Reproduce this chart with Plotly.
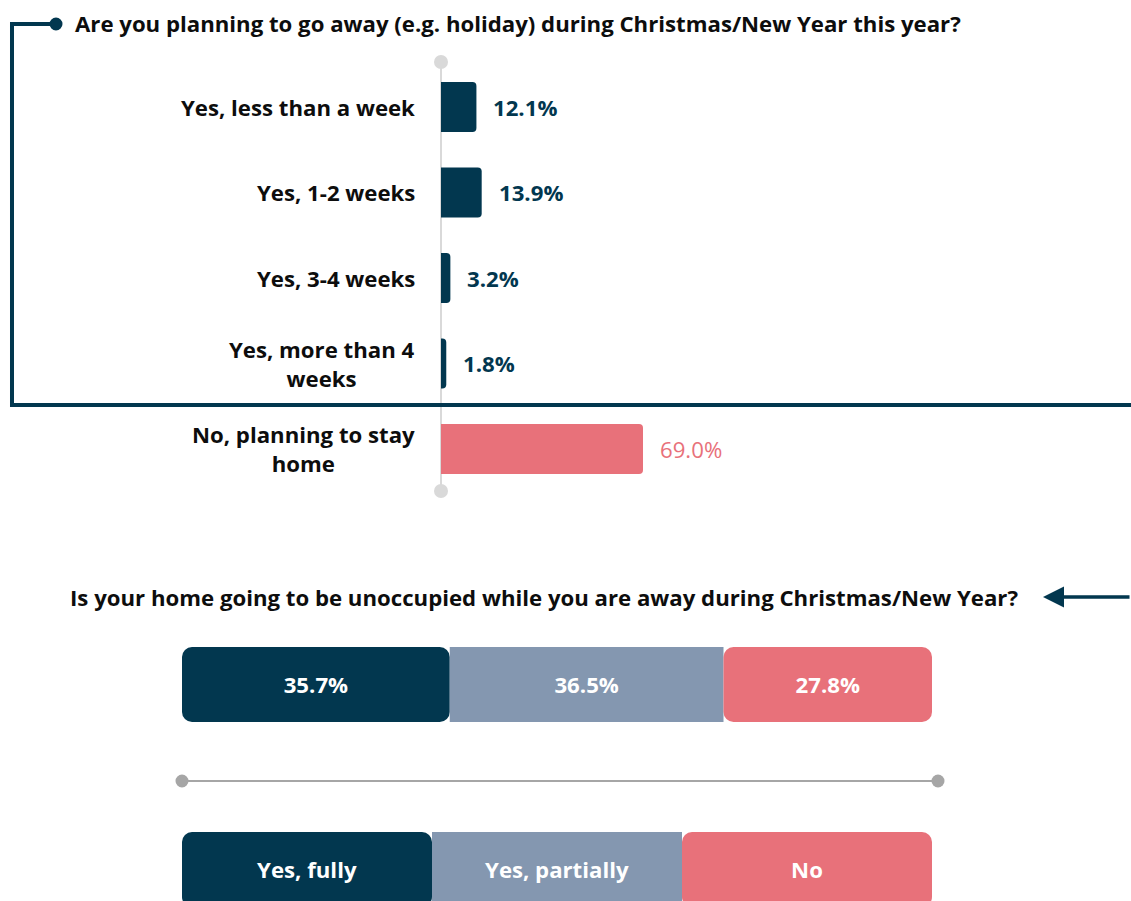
import plotly.graph_objects as go

# ---------------- data ----------------
categories = ["Yes, less than a week", "Yes, 1-2 weeks", "Yes, 3-4 weeks",
              "Yes, more than 4<br>weeks", "No, planning to stay<br>home"]
values = [12.1, 13.9, 3.2, 1.8, 69.0]

home_labels = ["Yes, fully", "Yes, partially", "No"]
home_values = [35.7, 36.5, 27.8]

title_top = "Are you planning to go away (e.g. holiday) during Christmas/New Year this year?"
title_bottom = "Is your home going to be unoccupied while you are away during Christmas/New Year?"

# ---------------- style ----------------
W, H = 1131, 901
NAVY = "#02374F"
GRAYBLUE = "#8497B0"
PINK = "#E8717A"
FONT = "Open Sans"
FS = 22.2
bar_colors = [NAVY, NAVY, NAVY, NAVY, PINK]
home_colors = [NAVY, GRAYBLUE, PINK]


def px(x):
    return x / W


def py(y):
    return 1 - y / H


fig = go.Figure()

# ---- top horizontal bar chart ----
fig.add_trace(go.Bar(
    y=categories, x=values, orientation="h",
    marker=dict(color=bar_colors, cornerradius=4, line=dict(width=0)),
    width=0.585, xaxis="x", yaxis="y", hoverinfo="x+y", showlegend=False,
))

annotations = []
for cat, v, c in zip(categories, values, bar_colors):
    annotations.append(dict(
        x=0, y=cat, xref="x", yref="y", text="<b>%s</b>" % cat, showarrow=False,
        xanchor="right", align="center", xshift=-24,
        font=dict(family=FONT, size=FS, color="#0D0D0D"),
    ))
    annotations.append(dict(
        x=v, y=cat, xref="x", yref="y",
        text=("<b>%.1f%%</b>" % v) if c == NAVY else ("%.1f%%" % v),
        showarrow=False, xanchor="left", xshift=15,
        font=dict(family=FONT, size=FS, color=c),
    ))

# ---- stacked bar (home unoccupied) & legend bar ----
def stacked(vals, labels_text, colors, xa, ya, radius):
    cum = 0
    for i, (v, t, c) in enumerate(zip(vals, labels_text, colors)):
        if i == 0:
            base, length = v, -v  # drawn toward zero so the outer end is rounded
        else:
            base, length = cum, v
        cr = radius if i in (0, len(vals) - 1) else 0
        fig.add_trace(go.Bar(
            y=[0], x=[length], base=[base], orientation="h", width=1,
            marker=dict(color=c, cornerradius=cr, line=dict(width=0)),
            text=[t], textposition="inside", insidetextanchor="middle",
            textangle=0,
            textfont=dict(family=FONT, size=FS, color="white"),
            xaxis=xa, yaxis=ya, showlegend=False, hoverinfo="text",
        ))
        cum += v


stacked(home_values, ["<b>%.1f%%</b>" % v for v in home_values], home_colors, "x2", "y2", 10)
stacked([1, 1, 1], ["<b>%s</b>" % l for l in home_labels], home_colors, "x3", "y3", 10)

# ---- titles ----
annotations.append(dict(
    x=px(73), y=py(24), xref="paper", yref="paper", text="<b>%s</b>" % title_top,
    showarrow=False, xanchor="left", yanchor="middle",
    font=dict(family=FONT, size=FS, color="#0D0D0D"),
))
annotations.append(dict(
    x=px(1020), y=py(597), xref="paper", yref="paper", text="<b>%s</b>" % title_bottom,
    showarrow=False, xanchor="right", yanchor="middle",
    font=dict(family=FONT, size=FS, color="#0D0D0D"),
))
# arrow
annotations.append(dict(
    x=px(1043), y=py(597), xref="paper", yref="paper", text="",
    showarrow=True, ax=90, ay=0, axref="pixel", ayref="pixel",
    arrowhead=2, arrowsize=1.2, arrowwidth=3.5, arrowcolor=NAVY,
))

shapes = []
# top chart axis line with end dots
shapes.append(dict(type="line", xref="paper", yref="paper", x0=px(441), x1=px(441),
                   y0=py(62), y1=py(491), line=dict(color="#D9D9D9", width=2), layer="below"))
for cy in (62, 491):
    r = 7
    shapes.append(dict(type="circle", xref="paper", yref="paper", x0=px(441 - r), x1=px(441 + r),
                       y0=py(cy - r), y1=py(cy + r), fillcolor="#D9D9D9", line=dict(width=0)))
# navy connector
shapes.append(dict(type="path", xref="paper", yref="paper",
                   path="M %f %f L %f %f L %f %f L %f %f" % (px(56), py(24), px(12), py(24), px(12), py(405), px(1131), py(405)),
                   line=dict(color=NAVY, width=4)))
r = 6.5
shapes.append(dict(type="circle", xref="paper", yref="paper", x0=px(56 - r), x1=px(56 + r),
                   y0=py(24 - r), y1=py(24 + r), fillcolor=NAVY, line=dict(width=0)))
# gray separator with dots
shapes.append(dict(type="line", xref="paper", yref="paper", x0=px(182), x1=px(938),
                   y0=py(781), y1=py(781), line=dict(color="#A6A6A6", width=2)))
for cx in (182, 938):
    r = 6.5
    shapes.append(dict(type="circle", xref="paper", yref="paper", x0=px(cx - r), x1=px(cx + r),
                       y0=py(781 - r), y1=py(781 + r), fillcolor="#A6A6A6", line=dict(width=0)))

scale_top = 202 / 69.0  # px per percent
fig.update_layout(
    width=W, height=H, margin=dict(l=0, r=0, t=0, b=0),
    paper_bgcolor="white", plot_bgcolor="rgba(0,0,0,0)",
    barmode="overlay",
    font=dict(family=FONT),
    xaxis=dict(domain=[px(441), 1], range=[0, (W - 441) / scale_top], visible=False, fixedrange=True),
    yaxis=dict(domain=[py(491.75), py(64.25)], categoryorder="array", categoryarray=categories,
               range=[4.5, -0.5], visible=False, fixedrange=True),
    xaxis2=dict(domain=[px(182), px(932)], range=[0, 100], visible=False, anchor="y2"),
    yaxis2=dict(domain=[py(722), py(647)], range=[-0.5, 0.5], visible=False, anchor="x2"),
    xaxis3=dict(domain=[px(182), px(932)], range=[0, 3], visible=False, anchor="y3"),
    yaxis3=dict(domain=[0, py(832)], range=[0.5 - (H - 832) / 75.0, 0.5], visible=False, anchor="x3"),
    annotations=annotations, shapes=shapes,
)

fig.write_html("out.html", config={"displayModeBar": False},
               post_script="document.body.style.margin='0';document.body.style.overflow='hidden';")
